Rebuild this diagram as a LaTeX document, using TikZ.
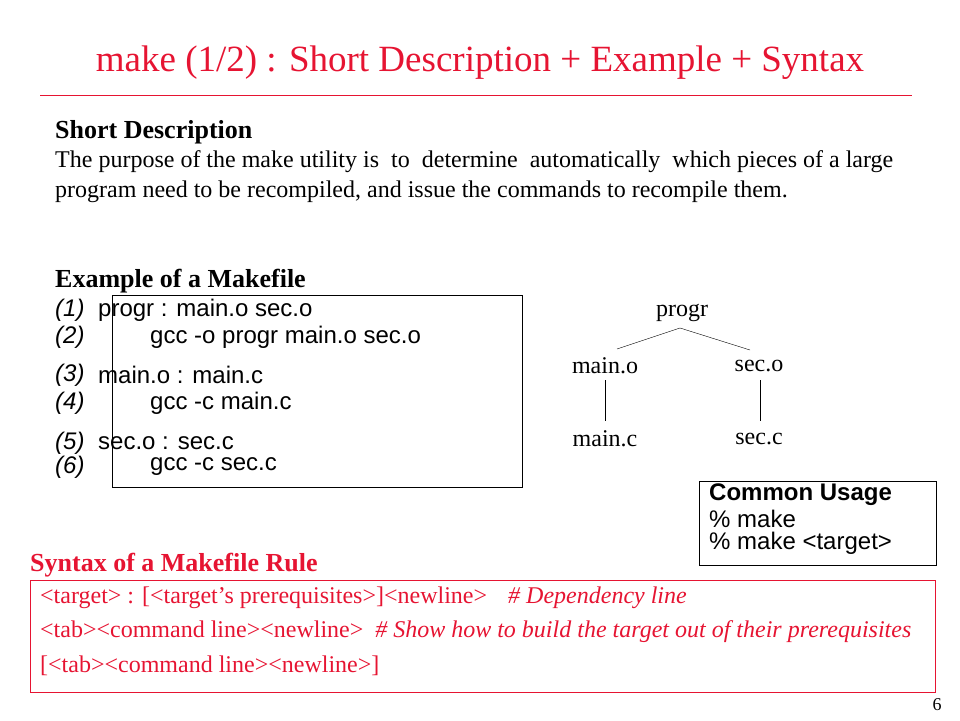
\documentclass[tikz,border=0pt]{standalone}
\usepackage{fontspec}
\setmainfont{Liberation Serif}
\setsansfont{Liberation Sans}
\begin{document}
\begin{tikzpicture}[x=1pt,y=-1pt,
  ser/.style={anchor=west,inner sep=0pt,font=\fontsize{24}{26}\selectfont},
  cd/.style={anchor=west,inner sep=0pt,font=\sffamily\fontsize{24}{26}\selectfont},
  tr/.style={inner sep=0pt,font=\fontsize{24}{26}\selectfont},
  rd/.style={anchor=west,inner sep=0pt,text={rgb,255:red,230;green,20;blue,50},font=\fontsize{24}{26}\selectfont}]
\definecolor{tred}{RGB}{230,20,50}
\useasboundingbox (0,0) rectangle (960,720);
\node[inner sep=0pt,text=tred,font=\fontsize{37}{40}\selectfont] (title) at (480,63) {make (1/2) : Short Description + Example + Syntax};
\draw[tred,line width=0.6pt] (40,95) -- (912,95);
\node[ser,font=\bfseries\fontsize{26}{28}\selectfont] (sd) at (55,132) {Short Description};
\node[ser] (l1) at (55,162) {The purpose of the make utility is \ to \ determine \ automatically \ which pieces of a large};
\node[ser] (l2) at (55,192) {program need to be recompiled, and issue the commands to recompile them.};
\node[ser,font=\bfseries\fontsize{26}{28}\selectfont] (ex) at (55,281) {Example of a Makefile};
\draw[line width=0.8pt] (112,295) rectangle (522,487);
\foreach \n/\y/\x/\t in {1/310/98/{progr : main.o sec.o},2/337/150/{gcc -o progr main.o sec.o},3/375/98/{main.o : main.c},4/403/150/{gcc -c main.c},5/443/98/{sec.o : sec.c},6/467/150/{gcc -c sec.c}}{
  \node[cd,font=\sffamily\itshape\fontsize{24}{26}\selectfont] (n\n) at (55,\y) {(\n)};
  \node[cd] (c\n) at (\x,\y) {\t};
}
\node[tr] (p) at (682,313) {progr};
\node[tr] (mo) at (605,366) {main.o};
\node[tr] (so) at (759,366) {sec.o};
\node[tr] (mc) at (605,439) {main.c};
\node[tr] (sc) at (759,439) {sec.c};
\coordinate (apex) at (680,328);
\draw (617,349) -- (apex) -- (750,350);
\draw (605,380) -- (605,421);
\draw (760,380) -- (760,421);
\node[draw,line width=0.8pt,minimum width=237pt,minimum height=84pt] (cu) at (817.5,523) {};
\node[cd,font=\sffamily\bfseries\fontsize{24}{26}\selectfont] (cu1) at (709,495) {Common Usage};
\node[cd] (cu2) at (709,519) {\% make};
\node[cd] (cu3) at (709,543) {\% make <target>};
\node[rd,font=\bfseries\fontsize{26}{28}\selectfont] (syn) at (30,565) {Syntax of a Makefile Rule};
\draw[tred,line width=0.7pt] (30,580) rectangle (935,692);
\node[rd] (s1) at (40,598) {<target> : [<target\char39 s prerequisites>]<newline>};
\node[rd] (s1c) at (508,598) {\itshape \# Dependency line};
\node[rd] (s2) at (40,632) {<tab><command line><newline> \ \itshape \# Show how to build the target out of their prerequisites};
\node[rd] (s3) at (40,666) {[<tab><command line><newline>]};
\node[inner sep=0pt,font=\fontsize{18}{20}\selectfont] (pg) at (937,705) {6};
\end{tikzpicture}
\end{document}
